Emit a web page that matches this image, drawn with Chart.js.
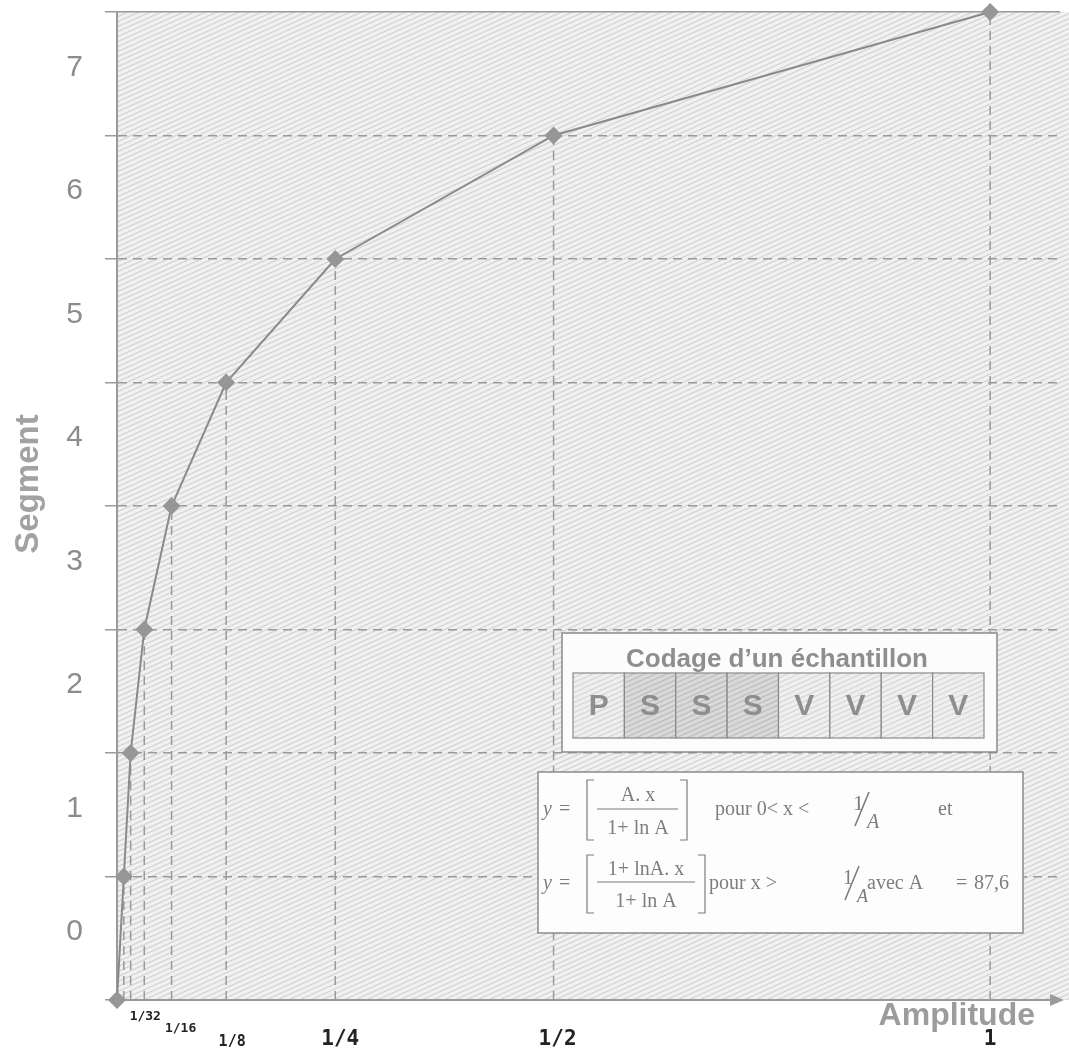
<!DOCTYPE html>
<html>
<head>
<meta charset="utf-8">
<script src="https://cdn.jsdelivr.net/npm/chart.js@4.4.1/dist/chart.umd.min.js"></script>
<style>
  html, body { margin: 0; padding: 0; background: #fff; }
  #wrap { width: 1069px; height: 1050px; }
</style>
</head>
<body>
<div id="wrap"><canvas id="chart"></canvas></div>
<script>
// A-law: segment boundaries vs amplitude
const amplitudes = [0, 1/128, 1/64, 1/32, 1/16, 1/8, 1/4, 1/2, 1];
const segmentLevels = [0, 1, 2, 3, 4, 5, 6, 7, 8];
const segmentLabels = ['0', '1', '2', '3', '4', '5', '6', '7'];
const xTickValues = [1/32, 1/16, 1/8, 1/4, 1/2, 1];
const xTickLabels = ['1/32', '1/16', '1/8', '1/4', '1/2', '1'];
const codeBits = ['P', 'S', 'S', 'S', 'V', 'V', 'V', 'V'];

const GRAY = '#9a9a9a';
const TEXT_GRAY = '#8e8e8e';
const SANS = '"Liberation Sans", Arial, sans-serif';

function hatch(ctx, x, y, w, h, bg, fg) {
  ctx.save();
  ctx.beginPath();
  ctx.rect(x, y, w, h);
  ctx.clip();
  ctx.fillStyle = bg;
  ctx.fillRect(x, y, w, h);
  ctx.strokeStyle = fg;
  ctx.lineWidth = 1.2;
  ctx.beginPath();
  const slope = 0.45, gap = 5;
  for (let c = y; c < y + h + w * slope; c += gap) {
    ctx.moveTo(x, c);
    ctx.lineTo(x + w, c - w * slope);
  }
  ctx.stroke();
  ctx.restore();
}

// no automatic label padding, the sizes are fixed below
function noPad(s) {
  s.paddingTop = 0;
  s.paddingBottom = 0;
  s.paddingLeft = 0;
  s.paddingRight = 0;
}

const curve = amplitudes.map((a, i) => ({ x: a, y: segmentLevels[i] }));

// dashed drop lines from each point to the amplitude axis
const dropLines = amplitudes.slice(1).map((a, i) => ({
  data: [{ x: a, y: 0 }, { x: a, y: segmentLevels[i + 1] }],
  borderColor: GRAY,
  borderWidth: 1.5,
  borderDash: [9, 6],
  pointRadius: 0,
  clip: false
}));

const backdrop = {
  id: 'backdrop',
  beforeDraw(chart) {
    const a = chart.chartArea;
    hatch(chart.ctx, a.left, a.top, chart.width - a.left, a.bottom - a.top, '#f1f1f1', '#d3d3d3');
  }
};

const extras = {
  id: 'extras',
  afterDraw(chart) {
    const ctx = chart.ctx;
    const xs = chart.scales.x;
    const a = chart.chartArea;

    ctx.save();
    // arrow at the end of the amplitude axis
    ctx.fillStyle = GRAY;
    ctx.beginPath();
    ctx.moveTo(a.right + 4, a.bottom);
    ctx.lineTo(a.right - 10, a.bottom - 6);
    ctx.lineTo(a.right - 10, a.bottom + 6);
    ctx.closePath();
    ctx.fill();

    // axis names
    ctx.font = 'bold 32px ' + SANS;
    ctx.fillStyle = '#9c9c9c';
    ctx.textAlign = 'right';
    ctx.textBaseline = 'middle';
    ctx.fillText('Amplitude', 1035, 1016);

    ctx.save();
    ctx.translate(29, 484);
    ctx.rotate(-Math.PI / 2);
    ctx.textAlign = 'center';
    ctx.font = 'bold 33px ' + SANS;
    ctx.fillStyle = '#a2a2a2';
    ctx.fillText('Segment', 0, 0);
    ctx.restore();

    // staggered amplitude tick labels
    const sizes = [13, 13, 15, 21, 21, 21];
    const rows = [1017, 1029, 1042, 1040, 1040, 1040];
    const shift = [1, 9, 6, 5, 4, 0];
    ctx.fillStyle = '#222';
    ctx.textAlign = 'center';
    xTickValues.forEach((v, i) => {
      ctx.font = 'bold ' + sizes[i] + 'px "DejaVu Sans Mono", monospace';
      ctx.fillText(xTickLabels[i], xs.getPixelForValue(v) + shift[i], rows[i]);
    });

    // "Codage d'un échantillon" box
    ctx.fillStyle = '#fcfcfc';
    ctx.fillRect(562, 633, 435, 119);
    ctx.strokeStyle = '#8a8a8a';
    ctx.lineWidth = 1.5;
    ctx.strokeRect(562, 633, 435, 119);
    ctx.font = 'bold 26px ' + SANS;
    ctx.fillStyle = TEXT_GRAY;
    ctx.fillText("Codage d\u2019un \u00e9chantillon", 777, 660);
    const cw = (984 - 573) / codeBits.length;
    codeBits.forEach((b, i) => {
      const cx = 573 + i * cw;
      const dark = b === 'S';
      hatch(ctx, cx, 673, cw, 65, dark ? '#d9d9d9' : '#efefef', dark ? '#bdbdbd' : '#d6d6d6');
      ctx.strokeStyle = '#8a8a8a';
      ctx.lineWidth = 1.2;
      ctx.strokeRect(cx, 673, cw, 65);
      ctx.font = 'bold 30px ' + SANS;
      ctx.fillStyle = TEXT_GRAY;
      ctx.textAlign = 'center';
      ctx.fillText(b, cx + cw / 2, 707);
    });

    // formula box
    ctx.fillStyle = '#fdfdfd';
    ctx.fillRect(538, 772, 485, 161);
    ctx.strokeStyle = '#8a8a8a';
    ctx.lineWidth = 1.5;
    ctx.strokeRect(538, 772, 485, 161);

    const serif = '"Liberation Serif", "Times New Roman", serif';
    ctx.fillStyle = '#7d7d7d';
    ctx.strokeStyle = '#7d7d7d';
    ctx.textBaseline = 'alphabetic';

    const bracket = (x, top, bot, dir) => {
      ctx.lineWidth = 1.2;
      ctx.beginPath();
      ctx.moveTo(x + dir * 7, top);
      ctx.lineTo(x, top);
      ctx.lineTo(x, bot);
      ctx.lineTo(x + dir * 7, bot);
      ctx.stroke();
    };
    const bar = (x1, x2, y) => {
      ctx.lineWidth = 1.2;
      ctx.beginPath();
      ctx.moveTo(x1, y);
      ctx.lineTo(x2, y);
      ctx.stroke();
    };
    const oneOverA = (x, base, size) => {
      ctx.textAlign = 'left';
      ctx.font = size + 'px ' + serif;
      ctx.fillText('1', x, base - 12);
      ctx.lineWidth = 1.6;
      ctx.beginPath();
      ctx.moveTo(x + 2, base + 4);
      ctx.lineTo(x + 16, base - 30);
      ctx.stroke();
      ctx.font = 'italic ' + (size - 2) + 'px ' + serif;
      ctx.fillText('A', x + 14, base + 6);
    };

    // line 1
    ctx.font = 'italic 20px ' + serif;
    ctx.textAlign = 'left';
    ctx.fillText('y', 543, 815);
    ctx.font = '20px ' + serif;
    ctx.fillText('=', 559, 815);
    bracket(587, 780, 840, 1);
    bracket(687, 780, 840, -1);
    ctx.textAlign = 'center';
    ctx.fillText('A. x', 638, 801);
    bar(597, 678, 809);
    ctx.fillText('1+ ln A', 638, 834);
    ctx.textAlign = 'left';
    ctx.fillText('pour 0< x <', 715, 815);
    oneOverA(853, 822, 22);
    ctx.font = '20px ' + serif;
    ctx.fillText('et', 938, 815);

    // line 2
    ctx.font = 'italic 20px ' + serif;
    ctx.fillText('y', 543, 889);
    ctx.font = '20px ' + serif;
    ctx.fillText('=', 559, 889);
    bracket(587, 855, 913, 1);
    bracket(705, 855, 913, -1);
    ctx.textAlign = 'center';
    ctx.fillText('1+ lnA. x', 646, 875);
    bar(597, 695, 882);
    ctx.fillText('1+ ln A', 646, 907);
    ctx.textAlign = 'left';
    ctx.fillText('pour x >', 709, 889);
    oneOverA(843, 896, 20);
    ctx.font = '20px ' + serif;
    ctx.fillText('avec A', 867, 889);
    ctx.fillText('=', 956, 889);
    ctx.fillText('87,6', 974, 889);

    ctx.restore();
  }
};

new Chart(document.getElementById('chart'), {
  type: 'line',
  data: {
    datasets: [
      {
        data: curve,
        borderColor: '#8a8a8a',
        borderWidth: 2,
        pointStyle: 'rectRot',
        pointRadius: 9,
        pointBackgroundColor: '#969696',
        pointBorderWidth: 0,
        tension: 0,
        clip: false
      },
      ...dropLines
    ]
  },
  plugins: [backdrop, extras],
  options: {
    responsive: true,
    maintainAspectRatio: false,
    animation: false,
    layout: {
      padding: { top: 12, right: 4, left: 0, bottom: 0 }
    },
    plugins: {
      legend: { display: false },
      tooltip: { enabled: false }
    },
    scales: {
      x: {
        type: 'linear',
        min: 0,
        max: 1.08,
        grid: { display: false },
        border: { display: true, color: GRAY, width: 2 },
        ticks: { display: false },
        afterFit: s => { s.height = 50; noPad(s); }
      },
      y: {
        type: 'linear',
        position: 'left',
        weight: 0,
        min: 0,
        max: 8,
        ticks: { display: false, stepSize: 1 },
        grid: {
          color: GRAY,
          lineWidth: 1.5,
          drawTicks: true,
          tickLength: 12,
          tickColor: GRAY,
          tickWidth: 1.5
        },
        border: {
          display: true,
          color: GRAY,
          width: 2,
          dash: c => (c.tick && (c.tick.value === 8 || c.tick.value === 0)) ? [] : [9, 6]
        },
        afterFit: s => { s.width = 27; noPad(s); }
      },
      yl: {
        type: 'linear',
        position: 'left',
        weight: 1,
        min: 0,
        max: 8,
        grid: { display: false, drawTicks: false },
        border: { display: false },
        afterBuildTicks: s => {
          s.ticks = segmentLabels.map((l, i) => ({ value: i + 0.55 }));
        },
        ticks: {
          padding: 7,
          color: '#8c8c8c',
          font: { family: SANS, size: 30 },
          callback: (v, i) => segmentLabels[i]
        },
        afterFit: s => { s.width = 90; noPad(s); }
      }
    }
  }
});
</script>
</body>
</html>
